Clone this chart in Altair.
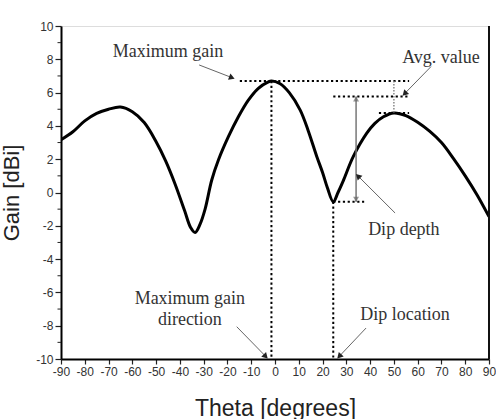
import math
import altair as alt
import pandas as pd

# Radiation pattern cut: gain versus theta
theta = [-90, -85, -80, -75, -70, -65, -60, -55, -50, -46, -42, -38, -35.5, -33.6,
         -31.5, -29.4, -26.6, -23.8, -19.6, -15.4, -11.2, -7, -3, -1.5, 2, 6, 10.6,
         14, 17.6, 20, 22, 24.5, 26.5, 28.7, 32.9, 38.6, 42, 45.6, 50, 55, 60, 65,
         70, 75, 80, 85, 90]
gain = [3.17, 3.65, 4.3, 4.75, 5.0, 5.13, 4.85, 4.2, 3.05, 1.9, 0.5, -1.1, -2.1, -2.4,
        -1.9, -1.0, 0.75, 1.95, 3.35, 4.55, 5.55, 6.26, 6.63, 6.7, 6.55, 6.0, 4.95,
        3.7, 2.15, 1.2, 0.3, -0.56, 0.0, 0.7, 2.15, 3.56, 4.15, 4.55, 4.78, 4.62,
        4.22, 3.68, 3.0, 2.05, 1.0, -0.15, -1.45]

# Key levels of the pattern
max_theta, max_gain = -1.5, 6.7
dip_theta, dip_gain = 24.5, -0.56
peak2_theta, peak2_gain = 50, 4.78
avg_gain = 5.77
depth_theta = 34.1

x_ticks = list(range(-90, 91, 10))
y_ticks = list(range(-10, 11, 2))
y_minor = list(range(-9, 10, 2))

W, H = 428, 333
SX, SY = W / 180, H / 20

xs = alt.Scale(domain=[-90, 90], nice=False, zero=False)
ys = alt.Scale(domain=[-10, 10], nice=False, zero=False)

label_expr = "datum.value < 0 ? '-' + abs(datum.value) : '' + datum.value"

x_axis = alt.Axis(
    values=x_ticks, title="Theta [degrees]", grid=False,
    domainColor="black", domainWidth=2, tickColor="#222", tickWidth=1.2, tickSize=5,
    labelFont="Liberation Sans", labelFontSize=12, labelColor="#333", labelPadding=2,
    labelExpr=label_expr, labelFlush=False, labelOverlap=False,
    titleFont="Liberation Sans", titleFontSize=23, titleFontWeight="normal",
    titleColor="#222", titleBaseline="alphabetic", titleY=56, titleX=W / 2,
)
y_axis = alt.Axis(
    values=y_ticks, title="Gain [dBi]", grid=False,
    domainColor="black", domainWidth=2, tickColor="#222", tickWidth=1.2, tickSize=6,
    labelFont="Liberation Sans", labelFontSize=12, labelColor="#333", labelPadding=2,
    labelExpr=label_expr, labelFlush=False, labelOverlap=False,
    titleFont="Liberation Sans", titleFontSize=22, titleFontWeight="normal",
    titleColor="#222", titleAngle=-90, titleAlign="center",
    titleBaseline="alphabetic", titleX=-43, titleY=H / 2,
)


def X(field):
    return alt.X(field, scale=xs, axis=x_axis, title="Theta [degrees]")


def Y(field):
    return alt.Y(field, scale=ys, axis=y_axis, title="Gain [dBi]")


curve_df = pd.DataFrame({"theta": theta, "gain": gain})

# Dotted black guide segments
dotted = pd.DataFrame([
    dict(x=-14.8, x2=56.4, y=max_gain, y2=max_gain),
    dict(x=max_theta, x2=max_theta, y=max_gain, y2=-10),
    dict(x=dip_theta, x2=dip_theta, y=dip_gain, y2=-10),
    dict(x=dip_theta, x2=56.4, y=avg_gain, y2=avg_gain),
    dict(x=43.7, x2=56.4, y=peak2_gain, y2=peak2_gain),
    dict(x=dip_theta, x2=37.5, y=dip_gain, y2=dip_gain),
])

# Callout arrows (tail -> head)
arrows = pd.DataFrame([
    dict(x=-31.9, y=7.66, x2=-18.5, y2=6.92),
    dict(x=65.6, y=7.56, x2=54.8, y2=5.98),
    dict(x=50.5, y=-1.23, x2=35.2, y2=0.95),
    dict(x=38.3, y=-8.14, x2=27.3, y2=-9.8),
    dict(x=-16.1, y=-8.06, x2=-4.2, y2=-9.8),
])


def head_angle(x1, y1, x2, y2):
    dx = (x2 - x1) * SX
    dy = -(y2 - y1) * SY
    return math.degrees(math.atan2(dx, -dy)) % 360


heads = pd.DataFrame([
    dict(x=r.x2, y=r.y2, angle=head_angle(r.x, r.y, r.x2, r.y2))
    for r in arrows.itertuples()
])

labels = pd.DataFrame([
    dict(x=-45.0, y=8.12, text="Maximum gain"),
    dict(x=69.8, y=7.80, text="Avg. value"),
    dict(x=54.2, y=-2.55, text="Dip depth"),
    dict(x=54.7, y=-7.66, text="Dip location"),
    dict(x=-35.8, y=-6.70, text="Maximum gain"),
    dict(x=-35.8, y=-7.96, text="direction"),
])

curve = alt.Chart(curve_df).mark_line(
    color="black", strokeWidth=3, interpolate="catmull-rom", clip=True
).encode(x=X("theta:Q"), y=Y("gain:Q"))

minor = alt.Chart(pd.DataFrame({"v": y_minor})).mark_rule(
    color="#222", strokeWidth=1
).encode(x=alt.value(-3.5), x2=alt.value(0), y=Y("v:Q"))

guides = alt.Chart(dotted).mark_rule(
    color="black", strokeWidth=2, strokeDash=[2.2, 2.6]
).encode(x=X("x:Q"), x2="x2:Q", y=Y("y:Q"), y2="y2:Q")

bracket = alt.Chart(pd.DataFrame(
    {"x": [peak2_theta], "y": [max_gain], "y2": [peak2_gain]}
)).mark_rule(color="#888", strokeWidth=1.5, strokeDash=[1.5, 1.5]).encode(
    x=X("x:Q"), y=Y("y:Q"), y2="y2:Q"
)

depth = alt.Chart(pd.DataFrame(
    {"x": [depth_theta], "y": [avg_gain], "y2": [dip_gain]}
)).mark_rule(color="#777", strokeWidth=1.5).encode(
    x=X("x:Q"), y=Y("y:Q"), y2="y2:Q"
)

depth_heads = alt.Chart(pd.DataFrame({
    "x": [depth_theta, depth_theta],
    "y": [avg_gain - 0.2, dip_gain + 0.2],
    "angle": [0, 180],
})).mark_point(shape="triangle", filled=True, color="#666", size=35).encode(
    x=X("x:Q"), y=Y("y:Q"), angle=alt.Angle("angle:Q", scale=None)
)

arrow_lines = alt.Chart(arrows).mark_rule(color="#666", strokeWidth=1).encode(
    x=X("x:Q"), x2="x2:Q", y=Y("y:Q"), y2="y2:Q"
)

arrow_heads = alt.Chart(heads).mark_point(
    shape="triangle", filled=True, color="#222", size=45, opacity=1
).encode(x=X("x:Q"), y=Y("y:Q"), angle=alt.Angle("angle:Q", scale=None))

texts = alt.Chart(labels).mark_text(
    font="Liberation Serif", fontSize=18, color="#333", align="center",
    baseline="alphabetic"
).encode(x=X("x:Q"), y=Y("y:Q"), text="text:N")

right_edge = alt.Chart(pd.DataFrame({"v": [0]})).mark_rule(
    color="#111", strokeWidth=2
).encode(x=alt.value(W), y=alt.value(0), y2=alt.value(H))

chart = alt.layer(
    curve, minor, guides, bracket, depth, depth_heads, arrow_lines, arrow_heads,
    texts, right_edge
).properties(
    width=W, height=H,
    autosize=alt.AutoSizeParams(type="none"),
    padding={"left": 61, "top": 26, "right": 7, "bottom": 60},
).configure_view(stroke="#888", strokeWidth=1.5).configure(background="white")

chart.save("out.html", embed_options={"renderer": "svg", "actions": False})
